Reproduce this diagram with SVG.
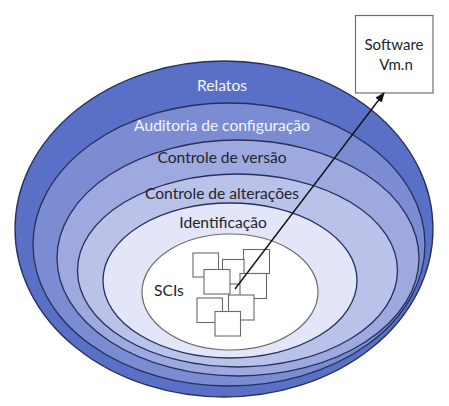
<svg xmlns="http://www.w3.org/2000/svg" width="449" height="406" viewBox="0 0 449 406">
<style>
.ring{stroke:#26305c;stroke-width:1.3}
.lbl{font-family:Lato,"Open Sans","DejaVu Sans",sans-serif;font-size:15.6px;text-anchor:middle;dominant-baseline:central}
.w{fill:#f4f6ff}
.d{fill:#22252e}
.sq{fill:#ffffff;stroke:#6a6a6a;stroke-width:1.1}
</style>
<defs>
<marker id="ah" markerWidth="10" markerHeight="8" refX="9" refY="4" orient="auto" markerUnits="userSpaceOnUse">
<path d="M0,0 L10,4 L0,8 z" fill="#111"/>
</marker>
</defs>
<rect width="449" height="406" fill="#ffffff"/>
<g id="relatos">
<ellipse class="ring" cx="224" cy="229" rx="209" ry="168" fill="#5a70c6" stroke="#2d3f6e"/>
<text class="lbl w" x="222" y="85">Relatos</text>
</g>
<g id="auditoria">
<ellipse class="ring" cx="229" cy="244.5" rx="196" ry="141.5" fill="#7b8cd3"/>
<text class="lbl w" x="222" y="125">Auditoria de configuração</text>
</g>
<g id="versao">
<ellipse class="ring" cx="238" cy="258" rx="181" ry="118" fill="#9ea9e0"/>
<text class="lbl d" x="222" y="157">Controle de versão</text>
</g>
<g id="alteracoes">
<ellipse class="ring" cx="237.5" cy="270.5" rx="160" ry="96.5" fill="#bac2ea"/>
<text class="lbl d" x="222" y="193">Controle de alterações</text>
</g>
<g id="identificacao">
<ellipse class="ring" cx="230" cy="280.5" rx="127" ry="77.5" fill="#e2e6f8"/>
<text class="lbl d" x="223" y="222">Identificação</text>
</g>
<g id="scis">
<ellipse cx="230" cy="292" rx="88" ry="58" fill="#ffffff" stroke="#6b6b6b" stroke-width="1.2"/>
<text class="lbl d" x="169" y="290">SCIs</text>
<rect class="sq" x="193" y="253" width="25.5" height="24"/>
<rect class="sq" x="243.5" y="249.5" width="26" height="24"/>
<rect class="sq" x="222.5" y="259.5" width="21.5" height="24.5"/>
<rect class="sq" x="204" y="269.5" width="26" height="24.5"/>
<rect class="sq" x="240" y="273.5" width="26.5" height="25"/>
<rect class="sq" x="197" y="298" width="25.5" height="24.5"/>
<rect class="sq" x="228.5" y="295" width="25.5" height="25"/>
<rect class="sq" x="215" y="311.5" width="25.5" height="24.5"/>
</g>
<g id="software">
<rect x="355.5" y="15.5" width="77.5" height="77.5" fill="#ffffff" stroke="#707070" stroke-width="1.2"/>
<text class="lbl d" x="394" y="44" style="font-size:15px">Software</text>
<text class="lbl d" x="396" y="64" style="font-size:15px">Vm.n</text>
</g>
<g id="connectors">
<line x1="235" y1="289" x2="384" y2="93" stroke="#111" stroke-width="1.4" marker-end="url(#ah)"/>
</g>
</svg>
